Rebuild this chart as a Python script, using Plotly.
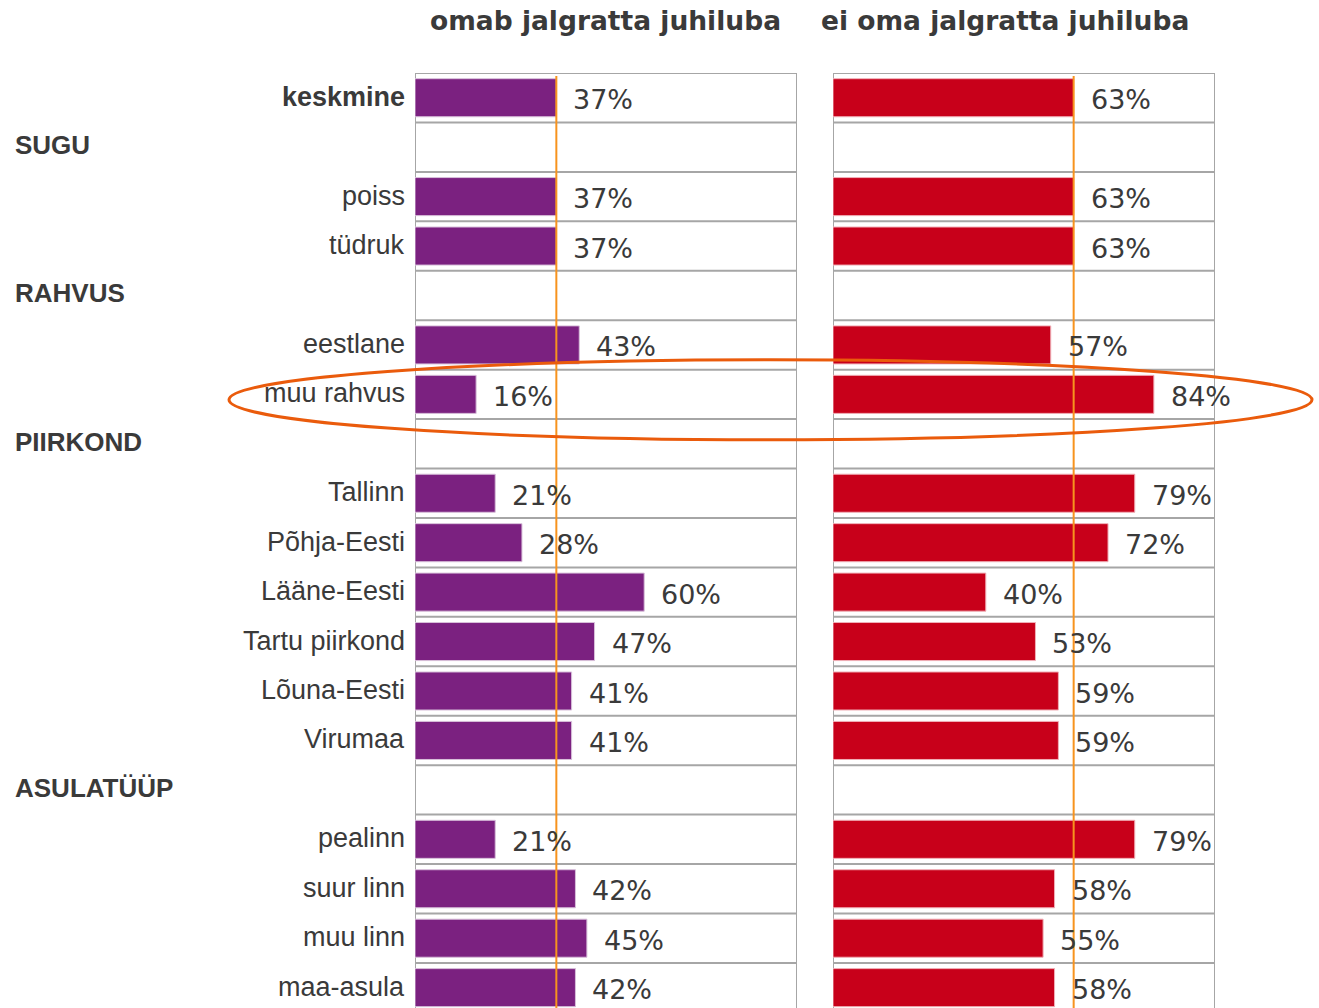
import plotly.graph_objects as go

# ---- data ----
categories = ["keskmine", "SUGU", "poiss", "tüdruk", "RAHVUS", "eestlane", "muu rahvus",
              "PIIRKOND", "Tallinn", "Põhja-Eesti", "Lääne-Eesti", "Tartu piirkond",
              "Lõuna-Eesti", "Virumaa", "ASULATÜÜP", "pealinn", "suur linn", "muu linn", "maa-asula"]
group_headers = ["SUGU", "RAHVUS", "PIIRKOND", "ASULATÜÜP"]
has_license = [37, None, 37, 37, None, 43, 16, None, 21, 28, 60, 47, 41, 41, None, 21, 42, 45, 42]
no_license = [63, None, 63, 63, None, 57, 84, None, 79, 72, 40, 53, 59, 59, None, 79, 58, 55, 58]
panel_titles = ["omab jalgratta juhiluba", "ei oma jalgratta juhiluba"]
average_label = "keskmine"
highlight_row = "muu rahvus"

W, H = 1319, 1008
def px(x):
    return x / W
def py(y):
    return 1 - y / H

TOP = 73
ROW_H = 49.44
n_vis = (H - TOP) / ROW_H
y_range = [-0.5 + n_vis, -0.5]

PURPLE = "#7B2180"
RED = "#C8001A"
GRID = "#A6A6A6"
AVG = "#F7931E"
TXT = "#3A3A3A"

idx = list(range(len(categories)))
fig = go.Figure()

fig.add_trace(go.Bar(
    x=[v / 100 if v is not None else None for v in has_license], y=idx,
    orientation="h", marker=dict(color=PURPLE, line=dict(color="#D8C0DA", width=1)),
    width=0.77, xaxis="x", yaxis="y", hoverinfo="skip"))
fig.add_trace(go.Bar(
    x=[v / 100 if v is not None else None for v in no_license], y=idx,
    orientation="h", marker=dict(color=RED, line=dict(color="#F0B0B8", width=1)),
    width=0.77, xaxis="x2", yaxis="y", hoverinfo="skip"))

shapes = []
annotations = []
avg_i = categories.index(average_label)
for xr, vals in (("x", has_license), ("x2", no_license)):
    # horizontal grid lines at row boundaries
    for k in range(len(categories) + 1):
        shapes.append(dict(type="line", xref=xr, yref="y", x0=0, x1=1, y0=k - 0.5, y1=k - 0.5,
                           line=dict(color=GRID, width=2), layer="below"))
    # panel side borders
    for xv in (0, 1):
        shapes.append(dict(type="line", xref=xr, yref="paper", x0=xv, x1=xv, y0=0, y1=py(TOP),
                           line=dict(color=GRID, width=2), layer="below"))
    # average line
    a = vals[avg_i] / 100
    shapes.append(dict(type="line", xref=xr, yref="paper", x0=a, x1=a, y0=0, y1=py(TOP + 3),
                       line=dict(color=AVG, width=2), layer="above"))
    # value labels
    for i, v in enumerate(vals):
        if v is None:
            continue
        annotations.append(dict(xref=xr, yref="y", x=v / 100, y=i, text=f"{v}%",
                                xanchor="left", yanchor="middle", xshift=15, yshift=-2,
                                showarrow=False,
                                font=dict(family="DejaVu Sans, Verdana", size=27, color=TXT)))

# category labels and group headers
for i, c in enumerate(categories):
    if c in group_headers:
        annotations.append(dict(xref="paper", yref="y", x=px(13), y=i, text=f"<b>{c}</b>",
                                xanchor="left", yanchor="middle", yshift=2, showarrow=False,
                                font=dict(family="Liberation Sans, Arial", size=26, color=TXT)))
    else:
        t = f"<b>{c}</b>" if c == average_label else c
        annotations.append(dict(xref="paper", yref="y", x=px(407), y=i, text=t,
                                xanchor="right", yanchor="middle", yshift=1, showarrow=False,
                                font=dict(family="Liberation Sans, Arial", size=27, color=TXT)))

# panel titles
for t, cx in zip(panel_titles, (605, 1005)):
    annotations.append(dict(xref="paper", yref="paper", x=px(cx), y=py(20), text=f"<b>{t}</b>",
                            xanchor="center", yanchor="middle", showarrow=False,
                            font=dict(family="DejaVu Sans, Verdana", size=26.5, color=TXT)))

# highlight ellipse
hi = categories.index(highlight_row)
shapes.append(dict(type="circle", xref="paper", yref="y", x0=px(229), x1=px(1312),
                   y0=hi - 0.70, y1=hi + 0.92, line=dict(color="#EA5B0C", width=3),
                   layer="above"))

axis_off = dict(showgrid=False, zeroline=False, showticklabels=False, showline=False,
                ticks="", range=[0, 1], fixedrange=True)
fig.update_layout(
    width=W, height=H, margin=dict(l=0, r=0, t=0, b=0),
    paper_bgcolor="white", plot_bgcolor="white", showlegend=False,
    barmode="overlay",
    xaxis=dict(domain=[px(415), px(797)], anchor="y", **axis_off),
    xaxis2=dict(domain=[px(833), px(1215)], anchor="y", **axis_off),
    yaxis=dict(domain=[0, py(TOP)], range=y_range, showgrid=False, zeroline=False,
               showticklabels=False, ticks="", fixedrange=True),
    shapes=shapes, annotations=annotations,
)

fig.write_html("out.html")
